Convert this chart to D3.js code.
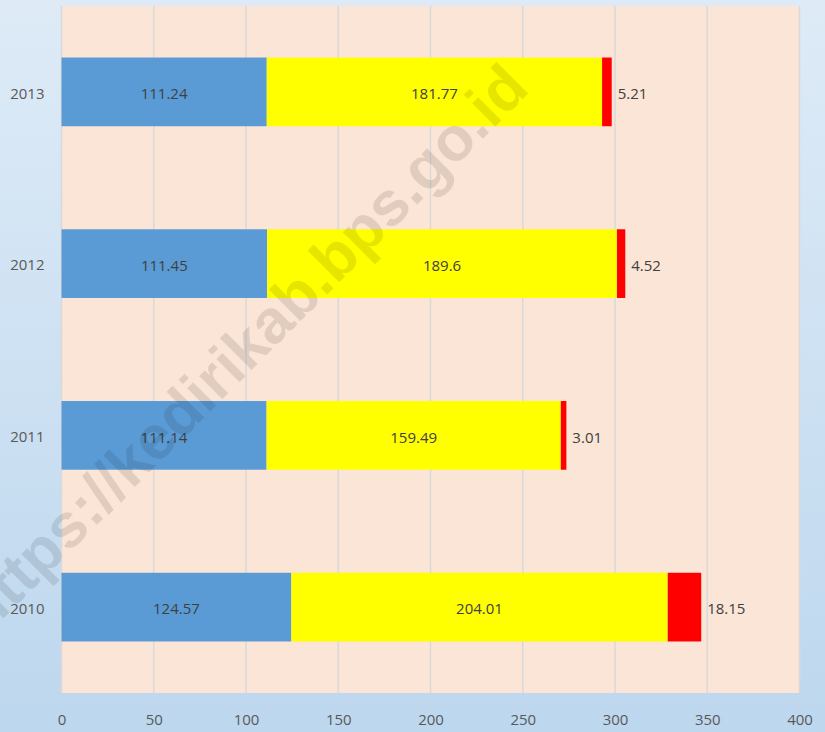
<!DOCTYPE html>
<html><head><meta charset="utf-8">
<script src="https://cdn.jsdelivr.net/npm/d3@7"></script>
<style>html,body{margin:0;padding:0;overflow:hidden}</style>
</head><body>
<svg id="chart" width="825" height="732"></svg>
<script>
const years = ["2010","2011","2012","2013"];
const seriesBlue = [124.57,111.14,111.45,111.24];
const seriesYellow = [204.01,159.49,189.6,181.77];
const seriesRed = [18.15,3.01,4.52,5.21];
const xTicks = [0,50,100,150,200,250,300,350,400];
const colors = ["#5B9BD5","#FFFF00","#FF0000"];
const watermark = "https://kedirikab.bps.go.id";

const W=825,H=732;
const m={left:61.5,right:25.5,top:6,bottom:39};
const svg=d3.select("#chart");
const defs=svg.append("defs");
const g1=defs.append("linearGradient").attr("id","bg").attr("x1",0).attr("y1",0).attr("x2",0).attr("y2",1);
g1.append("stop").attr("offset","0%").attr("stop-color","#DEEBF7");
g1.append("stop").attr("offset","100%").attr("stop-color","#BDD7EE");
svg.append("rect").attr("width",W).attr("height",H).attr("fill","url(#bg)");

const x=d3.scaleLinear().domain([0,400]).range([m.left,W-m.right]);
const y=d3.scaleBand().domain(years.slice().reverse()).range([m.top,H-m.bottom]).paddingInner(0.6).paddingOuter(0.3);

svg.append("rect").attr("x",x(0)).attr("y",m.top).attr("width",x(400)-x(0)).attr("height",H-m.bottom-m.top).attr("fill","#FBE5D6");

// grid
svg.append("g").selectAll("line").data(xTicks).join("line")
  .attr("x1",d=>x(d)).attr("x2",d=>x(d)).attr("y1",m.top).attr("y2",H-m.bottom)
  .attr("stroke","#D9D9D9").attr("stroke-width",1.5);

const data=years.map((yr,i)=>({year:yr,vals:[seriesBlue[i],seriesYellow[i],seriesRed[i]]}));
const gb=svg.append("g");
data.forEach(d=>{
  let acc=0;
  d.vals.forEach((v,k)=>{
    gb.append("rect").attr("x",x(acc)).attr("y",y(d.year)).attr("width",x(acc+v)-x(acc)).attr("height",y.bandwidth())
      .attr("fill",colors[k]);
    const cy=y(d.year)+y.bandwidth()/2+2;
    if(k<2){
      gb.append("text").attr("x",(x(acc)+x(acc+v))/2).attr("y",cy).attr("dy","0.35em")
        .attr("text-anchor","middle").attr("font-family","Open Sans, sans-serif").attr("font-size",15).attr("fill","#404040").text(v);
    } else {
      gb.append("text").attr("x",x(acc+v)+6).attr("y",cy).attr("dy","0.35em")
        .attr("text-anchor","start").attr("font-family","Open Sans, sans-serif").attr("font-size",15).attr("fill","#404040").text(v);
    }
    acc+=v;
  });
});

// axes labels
const xa=svg.append("g").attr("transform",`translate(0,${H-m.bottom})`)
  .call(d3.axisBottom(x).tickValues(xTicks).tickSize(0).tickPadding(21));
xa.select(".domain").remove();
xa.selectAll("text").attr("font-family","Open Sans, sans-serif").attr("font-size",15).attr("fill","#595959");

const ya=svg.append("g").attr("transform",`translate(${m.left},2)`)
  .call(d3.axisLeft(y).tickSize(0).tickPadding(17));
ya.select(".domain").remove();
ya.selectAll("text").attr("font-family","Open Sans, sans-serif").attr("font-size",15).attr("fill","#595959");

// watermark
svg.append("text").attr("transform","translate(243,348) rotate(-45)")
  .attr("text-anchor","middle").attr("dy","0.35em")
  .attr("font-family","Liberation Sans, Arial, sans-serif").attr("font-weight","bold").attr("font-size",62)
  .attr("fill","#000").attr("fill-opacity",0.1).text(watermark);
</script>
</body></html>
